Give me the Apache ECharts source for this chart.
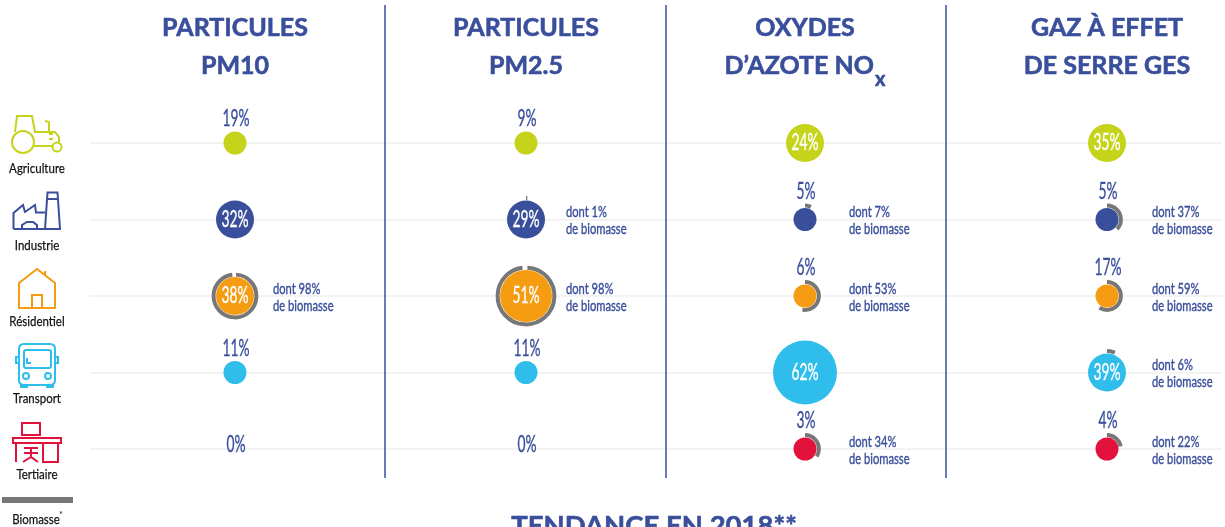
<!DOCTYPE html>
<html><head><meta charset="utf-8">
<style>html,body{margin:0;padding:0;background:#fff}#c{width:1225px;height:527px}</style>
<script src="https://cdn.jsdelivr.net/npm/echarts@6/dist/echarts.min.js"></script>
</head><body><div id="c"></div>
<script>
const sectors = ['Agriculture','Industrie','Résidentiel','Transport','Tertiaire'];
const pollutants = ['PM10','PM2.5','NOx','GES'];
const titles = ['PARTICULES\nPM10','PARTICULES\nPM2.5','OXYDES\nD’AZOTE NO{sub|x}','GAZ À EFFET\nDE SERRE GES'];
const pm10 = [19,32,38,11,0];
const pm25 = [9,29,51,11,0];
const nox  = [24,5,6,62,3];
const ges  = [35,5,17,39,4];
const pm10Bio = [null,null,98,null,null];
const pm25Bio = [null,1,98,null,null];
const noxBio  = [null,7,53,null,34];
const gesBio  = [null,37,59,6,22];

const values = [pm10,pm25,nox,ges];
const biomass = [pm10Bio,pm25Bio,noxBio,gesBio];
const sectorColors = ['#c5d41b','#3a4f9c','#f59c12','#2fbdeb','#e2123c'];
const columnCenter = [235,526,805,1107];
const noteGap = [38,40,44,45];
const BLUE = '#3a4f9c', GREY = '#777777', FONT = 'Lato';
const GW = 200, TOP = 143, H = 306;

const diameter = v => v === 0 ? 0 : v < 20 ? 23 : v < 45 ? 38 : v < 60 ? 52 : 64;

const grids = [{left:90, width:1132, top:TOP, height:H}];
const xAxes = [{gridIndex:0, type:'value', show:false, min:0, max:1}];
const yAxes = [{gridIndex:0, type:'category', inverse:true, boundaryGap:false, data:sectors,
  axisLine:{show:false}, axisTick:{show:false}, axisLabel:{show:false},
  splitLine:{show:true, interval:0, lineStyle:{color:'#f3f3f3', width:2}}}];
const series = [];

series.push({type:'custom', xAxisIndex:0, yAxisIndex:0, silent:true, clip:false,
  data:sectors.map(s=>[0,s]),
  renderItem:(params,api)=>{
    const c = api.coord([0,api.value(1)]);
    return {type:'text', x:37, y:c[1]+25.5, scaleX:.82,
      style:{text:sectors[params.dataIndex], fill:'#111', stroke:'#111', lineWidth:.25, font:'14px '+FONT, textAlign:'center', textVerticalAlign:'middle'}};
  }});

pollutants.forEach((p,i)=>{
  const g = i+1;
  grids.push({left:columnCenter[i]-GW/2, width:GW, top:TOP, height:H});
  xAxes.push({gridIndex:g, type:'category', show:false, data:[p]});
  yAxes.push({gridIndex:g, type:'category', inverse:true, boundaryGap:false, show:false, data:sectors});
  series.push({
    type:'scatter', xAxisIndex:g, yAxisIndex:g, symbol:'circle', z:3,
    symbolSize:(val)=>diameter(val[2]),
    data: values[i].map((v,k)=>({value:[p,sectors[k],v], itemStyle:{color:sectorColors[k], opacity:1}}))
  });
  series.push({
    type:'custom', xAxisIndex:g, yAxisIndex:g, z:2, silent:true, clip:false,
    data: biomass[i].map((b,k)=>[p,sectors[k],b,values[i][k]]).filter(d=>d[2]!==null),
    renderItem:(params,api)=>{
      const c = api.coord([api.value(0),api.value(1)]);
      const share = api.value(2), r = diameter(api.value(3))/2;
      const start = -Math.PI/2 + (share>90?0.05:0);
      return {type:'group', children:[
        {type:'arc', shape:{cx:c[0],cy:c[1],r:r+2.4,startAngle:start,endAngle:start+2*Math.PI*share/100-(share>90?0.05:0),clockwise:true},
         style:{fill:null,stroke:GREY,lineWidth:4}},
        {type:'text', x:c[0]+noteGap[i], y:c[1]+1, scaleX:.72,
         style:{text:'dont '+share+'%\nde biomasse', fill:BLUE, stroke:BLUE, lineWidth:.4, font:'15.5px '+FONT, lineHeight:17, textAlign:'left', textVerticalAlign:'middle'}}
      ]};
    }
  });
  series.push({
    type:'custom', xAxisIndex:g, yAxisIndex:g, z:4, silent:true, clip:false,
    data: values[i].map((v,k)=>[p,sectors[k],v,biomass[i][k]===null?0:1]),
    renderItem:(params,api)=>{
      const c = api.coord([api.value(0),api.value(1)]);
      const v = api.value(2), d = diameter(v), inside = d>30, hasBio = api.value(3)===1;
      const y = inside ? c[1] : v===0 ? c[1]-4 : c[1]-(hasBio?28:24);
      const color = inside?'#fff':BLUE;
      return {type:'text', x:c[0]+(inside?0:1), y, scaleX:.6,
        style:{text:v+'%', fill:color, stroke:color, lineWidth:.35, font:'23px '+FONT, textAlign:'center', textVerticalAlign:'middle'}};
    }
  });
});

const titleStyle = {fontFamily:FONT, fontWeight:'bold', fontSize:25, lineHeight:38, color:BLUE, textBorderColor:BLUE, textBorderWidth:0.6};
const titleComps = titles.map((t,i)=>({
  text:t, left:columnCenter[i], top:9, padding:0, textAlign:'center',
  textStyle:{...titleStyle,
    rich:{sub:{fontFamily:FONT, fontWeight:'bold', fontSize:20, color:BLUE, lineHeight:38, padding:[27,0,0,1], textBorderColor:BLUE, textBorderWidth:0.6}}}
}));
titleComps.push({text:'TENDANCE EN 2018**', left:654, top:511, padding:0, textAlign:'center',
  textStyle:{...titleStyle, fontSize:27.5, lineHeight:30}});

const path = (d,color,w)=>({type:'path', shape:{pathData:d}, style:{fill:null, stroke:color, lineWidth:w||2}, silent:true});
const arcP = (x,y,r)=>`M${x-r} ${y}a${r} ${r} 0 1 0 ${2*r} 0a${r} ${r} 0 1 0 ${-2*r} 0Z`;
const iconPaths = [
  arcP(23,142,11)+arcP(57,147,4.5)+'M15 132L17 116H32L35 132H55L59 137V143M34 146H52M45 121L49 122V132M49 134H53M49 139H53',
  'M13.5 229V213L23 205L25 212L35 205L36 212.5H45M45 229L47.5 192.5H57.5L60 229ZM47.5 199H57.5M13.5 229H60M22 229V225L27 222H33L37 225V229',
  'M19 308V283L37 269L55 283V308ZM32 308V295H42V308M45 271V276',
  'M24 344H50Q55 344 55 349V380Q55 385 50 385H24Q19 385 19 380V349Q19 344 24 344ZM26 350H49Q51 350 51 352V366Q51 368 49 368H26Q24 368 24 366V352Q24 350 26 350ZM27 358V363H31M19 357H16V363H19M55 357H58V363H55M21 385V387H27V385M47 385V387H53V385'+arcP(26,376,3)+arcP(48,376,3),
  'M22 423H40V435H22ZM13 438H61V443H13ZM16 443V462M43 443V462H58V443M24 448H38M31 448V458M24 453H38M23 462L31 457L38 462'
];
series.push({type:'custom', coordinateSystem:'none', silent:true, data:[0],
  renderItem:()=>({type:'group', children:[
    ...iconPaths.map((d,i)=>path(d,sectorColors[i])),
    {type:'text', x:36, y:519, scaleX:.82, silent:true, style:{text:'Biomasse', fill:'#111', stroke:'#111', lineWidth:.25, font:'14px '+FONT, textAlign:'center', textVerticalAlign:'middle'}},
    {type:'text', x:61, y:515, silent:true, style:{text:'*', fill:'#111', font:'9px '+FONT, textAlign:'center', textVerticalAlign:'middle'}}
  ]})});

const graphics = [
  ...[385,666,946].map(x=>({type:'line', z:20, shape:{x1:x,y1:5,x2:x,y2:478}, style:{stroke:BLUE,lineWidth:1.5}, silent:true})),
  {type:'rect', shape:{x:2,y:497,width:71,height:6}, style:{fill:GREY}, silent:true}
];

const chart = echarts.init(document.getElementById('c'),null,{renderer:'canvas'});
chart.setOption({animation:false, backgroundColor:'#fff', title:titleComps, grid:grids, xAxis:xAxes, yAxis:yAxes, series, graphic:{elements:graphics}});
</script></body></html>
